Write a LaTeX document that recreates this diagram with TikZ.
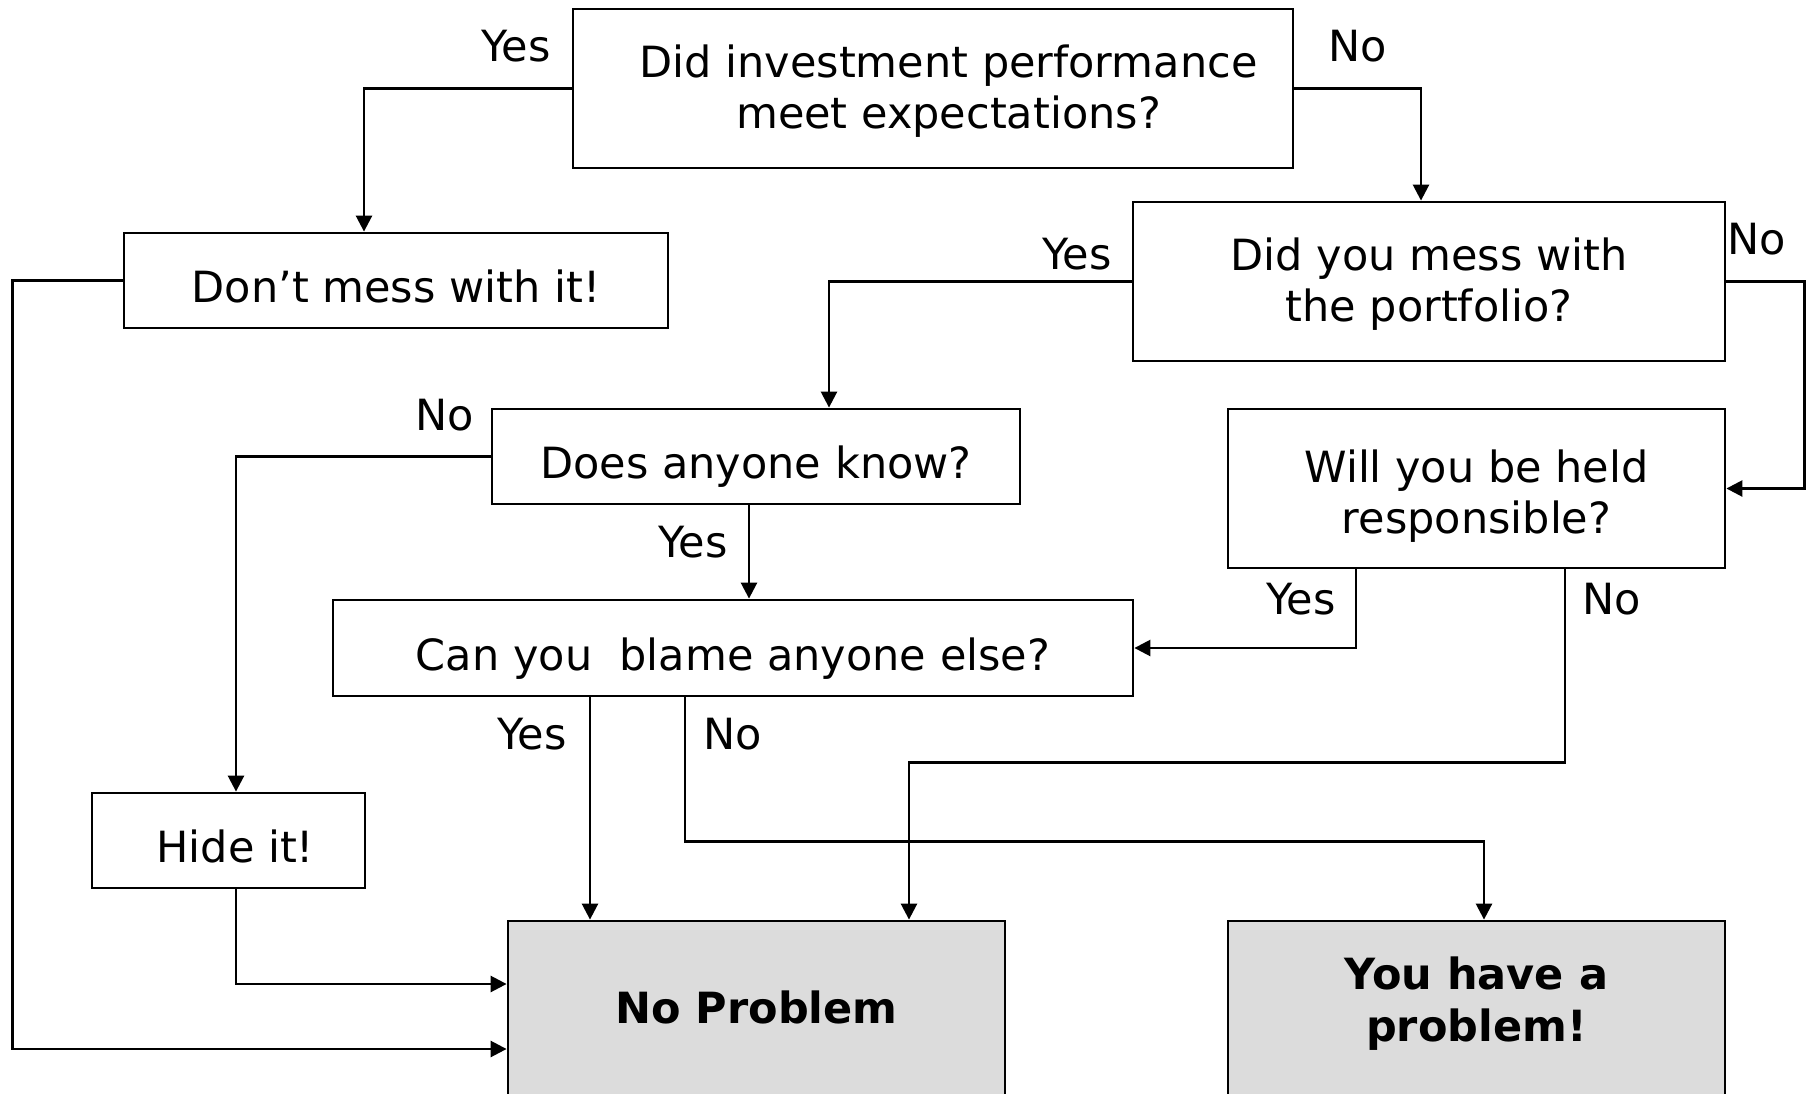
\documentclass[tikz,border=0pt]{standalone}
\usepackage{fontspec}
\setmainfont{DejaVu Sans}
\usetikzlibrary{arrows.meta}
\definecolor{endgray}{RGB}{220,220,220}
% invisible struts to set where a line sits in its box
\newcommand{\uprule}[1]{\rule{0pt}{#1}}
\newcommand{\downrule}[1]{\rule[-#1]{0pt}{#1}}

\begin{document}
\begin{tikzpicture}[
    x=1pt, y=-1pt,
    font=\fontsize{43}{51.5}\selectfont,
    every node/.append style={inner sep=0pt},
    box/.style={draw, line width=2.8pt, align=center},
    onebox/.style={box, text height=54pt, text depth=9.6pt},
    endbox/.style={box, fill=endgray, font=\fontsize{43}{51.5}\selectfont\bfseries},
    arr/.style={line width=2.6pt, -{Triangle[length=16pt,width=16pt]}}
  ]
  \useasboundingbox (0,0) rectangle (1807,1094);
  \clip (0,0) rectangle (1807,1094);

  % questions
  \node[box, minimum width=720, minimum height=159] (perf)  at (933,88.5)
    {\hspace*{31pt}\uprule{40pt}Did investment performance\\\hspace*{31pt}meet expectations?\downrule{11pt}};
  \node[onebox, minimum width=544, minimum height=95]  (dont)  at (396,280.5)  {Don’t mess with it!};
  \node[box, minimum width=592, minimum height=159] (mess)  at (1429,281.5)
    {\uprule{40pt}Did you mess with\\the portfolio?\downrule{11pt}};
  \node[onebox, minimum width=528, minimum height=95]  (know)  at (756,456.5)  {Does anyone know?};
  \node[box, minimum width=497, minimum height=159] (held)  at (1476.5,488.5)
    {\uprule{50.4pt}Will you be held\\responsible?\downrule{11pt}};
  \node[onebox, minimum width=800, minimum height=96]  (blame) at (733,648)    {Can you~ blame anyone else?};
  \node[onebox, minimum width=273, minimum height=95]  (hide)  at (228.5,840.5) {\ Hide it!};

  % outcomes
  \node[endbox, text height=34pt, text depth=5pt, minimum width=497, minimum height=175] (noprob) at (756.5,1008.5) {No Problem};
  \node[endbox, minimum width=497, minimum height=175] (yesprob) at (1476.5,1008.5)
    {\uprule{33pt}You have a\\problem!\downrule{19.2pt}};

  % answers
  \node (yes1) at (516,46)   {Yes};
  \node (no1)  at (1358,46)  {No};
  \node (yes2) at (1077,254) {Yes};
  \node (no2)  at (1757,239) {No};
  \node (no3)  at (445,415)  {No};
  \node (yes3) at (693,542)  {Yes};
  \node (yes4) at (1301,599) {Yes};
  \node (no4)  at (1612,599) {No};
  \node (yes5) at (532,734)  {Yes};
  \node (no5)  at (733,734)  {No};

  % connectors
  \draw[arr] (perf.west) -| ([xshift=-32pt]dont.north);
  \draw[arr] (perf.east) -| ([xshift=-8pt]mess.north);
  \draw[arr] (mess.west) -| ([xshift=73pt]know.north);
  \draw[arr] (mess.east) -- ++(78,0) |- (held.east);
  \draw[arr] (dont.west) -- ++(-110,0) |- ([yshift=-40.5pt]noprob.west);
  \draw[arr] (know.west) -| ([xshift=7.5pt]hide.north);
  \draw[arr] ([xshift=-7pt]know.south) -- ([xshift=-7pt]know.south |- blame.north);
  \draw[arr] ([xshift=-120.5pt]held.south) |- (blame.east);
  \draw[arr] ([xshift=88.5pt]held.south) -- ++(0,193) -| ([xshift=152.5pt]noprob.north);
  \draw[arr] ([xshift=-143pt]blame.south) -- ([xshift=-143pt]blame.south |- noprob.north);
  \draw[arr] ([xshift=-48pt]blame.south) -- ++(0,144) -| ([xshift=7.5pt]yesprob.north);
  \draw[arr] ([xshift=7.5pt]hide.south) |- ([yshift=24.5pt]noprob.west);
\end{tikzpicture}
\end{document}
